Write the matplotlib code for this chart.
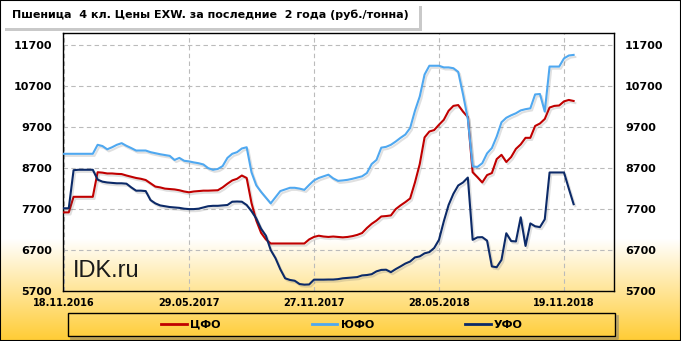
import matplotlib
matplotlib.use('Agg')
import matplotlib.pyplot as plt
import matplotlib.patheffects as pe
from matplotlib.patches import Rectangle
from matplotlib.lines import Line2D
import numpy as np

# weekly prices, руб./тонна
dates = ['18.11.2016', '29.05.2017', '27.11.2017', '28.05.2018', '19.11.2018']
date_pos = [0, 26, 52, 78, 104]

cfo = [7620, 7620, 8000, 8000, 8000, 8000, 8000, 8600, 8590, 8570,
       8570, 8560, 8555, 8520, 8490, 8460, 8440, 8410, 8330, 8250,
       8230, 8200, 8190, 8180, 8160, 8130, 8110, 8130, 8140, 8150,
       8150, 8155, 8160, 8230, 8320, 8400, 8440, 8520, 8460, 7850,
       7420, 7120, 6960, 6860, 6860, 6860, 6860, 6860, 6860, 6860,
       6860, 6960, 7020, 7050, 7030, 7020, 7030, 7020, 7010, 7020,
       7040, 7070, 7115, 7237, 7340, 7420, 7520, 7530, 7545, 7700,
       7790, 7870, 7960, 8350, 8800, 9450, 9594, 9630, 9760, 9880,
       10100, 10220, 10240, 10080, 9950, 8600, 8480, 8350, 8530, 8580,
       8920, 9025, 8850, 8970, 9170, 9280, 9440, 9440, 9730, 9790,
       9900, 10180, 10220, 10230, 10330, 10365, 10340]

yufo = [9050, 9050, 9050, 9050, 9050, 9050, 9050, 9270, 9240, 9160,
        9210, 9270, 9310, 9245, 9190, 9130, 9130, 9130, 9090, 9065,
        9040, 9020, 9000, 8900, 8950, 8880, 8865, 8840, 8820, 8790,
        8700, 8660, 8680, 8750, 8950, 9050, 9090, 9180, 9210, 8600,
        8280, 8120, 7980, 7840, 7990, 8140, 8180, 8220, 8220, 8200,
        8170, 8290, 8400, 8460, 8500, 8540, 8450, 8390, 8400, 8415,
        8440, 8470, 8500, 8580, 8800, 8900, 9200, 9220, 9270, 9350,
        9440, 9520, 9680, 10100, 10450, 10985, 11200, 11200, 11200, 11160,
        11160, 11140, 11050, 10500, 9900, 8740, 8730, 8820, 9060, 9190,
        9470, 9820, 9930, 9990, 10040, 10110, 10140, 10160, 10500, 10510,
        10080, 11180, 11180, 11180, 11380, 11450, 11465]

ufo = [7720, 7720, 8650, 8660, 8660, 8660, 8660, 8420, 8370, 8350,
       8340, 8330, 8330, 8320, 8230, 8150, 8150, 8140, 7920, 7840,
       7790, 7770, 7750, 7740, 7730, 7710, 7700, 7700, 7710, 7740,
       7770, 7780, 7780, 7790, 7800, 7880, 7885, 7880, 7800, 7650,
       7470, 7220, 7050, 6700, 6500, 6230, 6010, 5970, 5950, 5870,
       5855, 5860, 5977, 5977, 5977, 5980, 5980, 5990, 6010, 6020,
       6030, 6040, 6080, 6090, 6110, 6180, 6215, 6220, 6160, 6235,
       6300, 6370, 6420, 6520, 6545, 6620, 6650, 6750, 6950, 7400,
       7800, 8074, 8277, 8350, 8470, 6950, 7010, 7015, 6930, 6300,
       6280, 6460, 7110, 6920, 6910, 7500, 6800, 7350, 7280, 7260,
       7450, 8594, 8594, 8594, 8594, 8200, 7820]

names = ['ЦФО', 'ЮФО', 'УФО']
colors = ['#C00000', '#4FA8F0', '#0C2A68']
yticks = list(range(5700, 11701, 1000))

plt.rcParams['font.family'] = 'DejaVu Sans'
plt.rcParams['font.weight'] = 'bold'

W, H = 681, 341
fig = plt.figure(figsize=(W / 100, H / 100), dpi=100)

# white -> gold background
bg = fig.add_axes([0, 0, 1, 1], zorder=-10)
t = np.clip((np.arange(H) - 238) / (H - 238), 0, 1)[:, None]
img = np.array([1, 1, 1]) * (1 - t) + np.array([1, 0.80, 0.20]) * t
bg.imshow(img[:, None, :], aspect='auto', extent=[0, 1, 0, 1])
bg.axis('off')

ax = fig.add_axes([63 / W, 1 - 291 / H, (614 - 63) / W, (291 - 33) / H])
ax.set_facecolor('none')

x = np.arange(len(cfo))
shadow = [pe.SimpleLineShadow(offset=(1.2, -1.5), shadow_color='#555555', alpha=0.18), pe.Normal()]
for name, vals, col in zip(names, [cfo, yufo, ufo], colors):
    ax.plot(x, vals, color=col, lw=1.5, label=name, path_effects=shadow, zorder=3)

ax.set_xlim(-0.2, 114.4)
ax.set_ylim(5700, 12000)
ax.set_yticks(yticks)
ax.set_xticks(date_pos)
ax.set_xticklabels(dates)
ax.tick_params(axis='y', length=0, pad=8, labelsize=8, right=True, labelright=True)
ax.tick_params(axis='x', length=0, pad=5, labelsize=7)
ax.grid(True, color='#BBBBBB', linestyle=(0, (4, 3)), linewidth=0.8)
for s in ax.spines.values():
    s.set_linewidth(1)
    s.set_color('black')

fig.text(73 / W, 1 - 277 / H, 'IDK.ru', fontsize=17, family='Liberation Sans',
         fontweight='normal', color='#1a1a1a', va='baseline')

# legend frame + soft shadow on right/bottom
lx0, lx1, ly0, ly1 = 68, 615, 313, 336
fig.add_artist(Line2D([(lx0 + 3) / W, (lx1 + 2) / W, (lx1 + 2) / W],
                      [1 - (ly1 + 2) / H, 1 - (ly1 + 2) / H, 1 - (ly0 + 3) / H],
                      transform=fig.transFigure, color='#777777', lw=2, alpha=0.5))
fig.add_artist(Rectangle((lx0 / W, 1 - ly1 / H), (lx1 - lx0) / W, (ly1 - ly0) / H,
                         transform=fig.transFigure, fc='none', ec='black', lw=1))
handles = [Line2D([], [], color=c, lw=2) for c in colors]
fig.legend(handles, names, loc='center', bbox_to_anchor=(342 / W, 1 - 324.5 / H),
           ncol=3, frameon=False, fontsize=8, handlelength=2.3, handletextpad=0.3,
           columnspacing=8.2)

# title box
title = fig.text(12 / W, 1 - 18.5 / H,
                 'Пшеница  4 кл. Цены EXW. за последние  2 года (руб./тонна)',
                 fontsize=8, fontweight='bold', va='baseline', ha='left', zorder=5)
fig.canvas.draw()
bb = title.get_window_extent()
tb = Rectangle((2 / W, 1 - 28 / H), (bb.x1 + 10 - 2) / W, 25 / H,
               transform=fig.transFigure, fc='white', ec='none', zorder=4,
               path_effects=[pe.SimplePatchShadow(offset=(2, -2), alpha=0.3), pe.Normal()])
fig.add_artist(tb)

fig.add_artist(Rectangle((0, 0), 1, 1, transform=fig.transFigure, fc='none',
                         ec='black', lw=1.5, zorder=10))

fig.savefig('out.png', dpi=100)
